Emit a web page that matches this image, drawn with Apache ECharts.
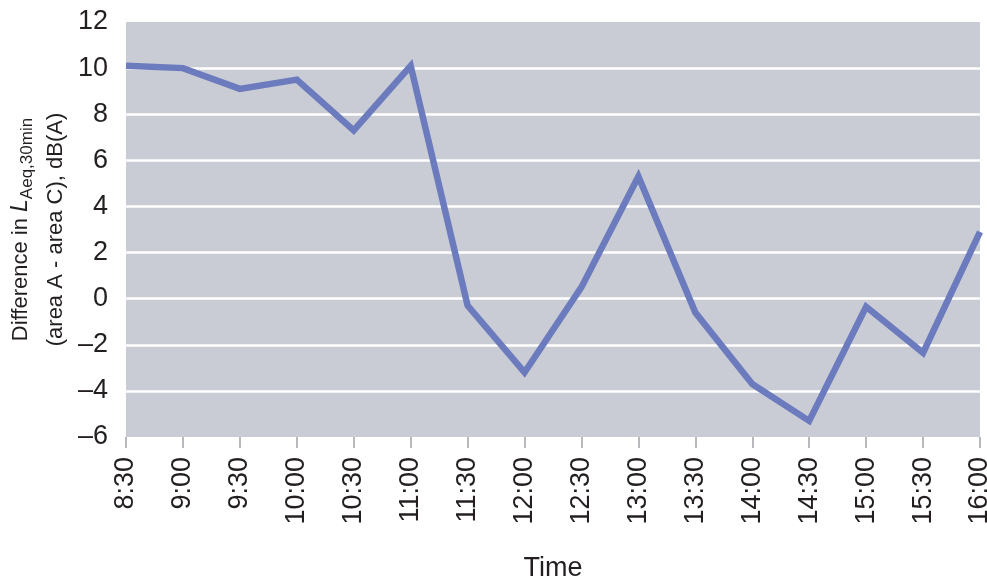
<!DOCTYPE html>
<html>
<head>
<meta charset="utf-8">
<script src="https://cdn.jsdelivr.net/npm/echarts@6/dist/echarts.min.js"></script>
<style>
  html, body { margin: 0; padding: 0; background: #fff; }
  #main { width: 987px; height: 583px; }
</style>
</head>
<body>
<div id="main"></div>
<script>
// time of day, every 30 min
const times = ['8:30', '9:00', '9:30', '10:00', '10:30', '11:00', '11:30', '12:00',
  '12:30', '13:00', '13:30', '14:00', '14:30', '15:00', '15:30', '16:00']
// difference in LAeq,30min (area A - area C), dB(A)
const diffValues = [10.1, 10.0, 9.1, 9.5, 7.3, 10.1, -0.3, -3.2,
  0.5, 5.3, -0.6, -3.7, -5.3, -0.35, -2.35, 2.9]
const yTicks = [-6, -4, -2, 0, 2, 4, 6, 8, 10, 12]

const font = "'Liberation Sans', Arial, sans-serif"
const textColor = '#231f20'

const myChart = echarts.init(document.getElementById('main'))
const option = {
  animation: false,
  grid: {
    left: 126,
    right: 7,
    top: 22,
    bottom: 146,
    outerBoundsMode: 'none',
    containLabel: false,
    show: true,
    backgroundColor: '#c9ccd4',
    borderWidth: 0
  },
  xAxis: {
    type: 'category',
    data: times,
    boundaryGap: false,
    name: 'Time',
    nameLocation: 'middle',
    nameGap: 118,
    nameTextStyle: { fontFamily: font, fontSize: 27, color: textColor },
    axisLine: { show: false, onZero: false },
    axisTick: { show: true, length: 11, alignWithLabel: true, lineStyle: { color: '#a0a3a8', width: 1.5 } },
    axisLabel: {
      rotate: 90,
      margin: 20,
      interval: 0,
      fontFamily: font,
      fontSize: 27,
      color: textColor
    },
    splitLine: { show: false }
  },
  yAxis: {
    type: 'value',
    min: yTicks[0],
    max: yTicks[yTicks.length - 1],
    interval: 2,
    name: '{base|Difference in }{it|L}{sub|Aeq,30min}\n{base|(area A - area C), dB(A)}',
    nameLocation: 'middle',
    nameRotate: 90,
    nameGap: 57,
    nameTextStyle: {
      fontFamily: font,
      color: textColor,
      rich: {
        base: { fontFamily: font, fontSize: 22, lineHeight: 35, color: textColor, verticalAlign: 'bottom' },
        it: { fontFamily: font, fontSize: 23, lineHeight: 35, fontStyle: 'italic', color: textColor, verticalAlign: 'bottom' },
        sub: { fontFamily: font, fontSize: 17, lineHeight: 35, color: textColor, verticalAlign: 'bottom', padding: [0, 0, -4, 0] }
      }
    },
    axisLine: { show: false },
    axisTick: { show: false },
    axisLabel: {
      margin: 18,
      fontFamily: font,
      fontSize: 27,
      color: textColor,
      formatter: function (v) {
        return String(v).replace('-', '\u2013')
      }
    },
    splitLine: {
      show: true,
      showMinLine: false,
      showMaxLine: false,
      lineStyle: { color: '#ffffff', width: 2.5 }
    }
  },
  series: [
    {
      type: 'line',
      data: diffValues,
      showSymbol: false,
      symbol: 'none',
      lineStyle: { color: '#6b7bbd', width: 6.5, join: 'miter', cap: 'butt' }
    }
  ]
}
myChart.setOption(option)
</script>
</body>
</html>
